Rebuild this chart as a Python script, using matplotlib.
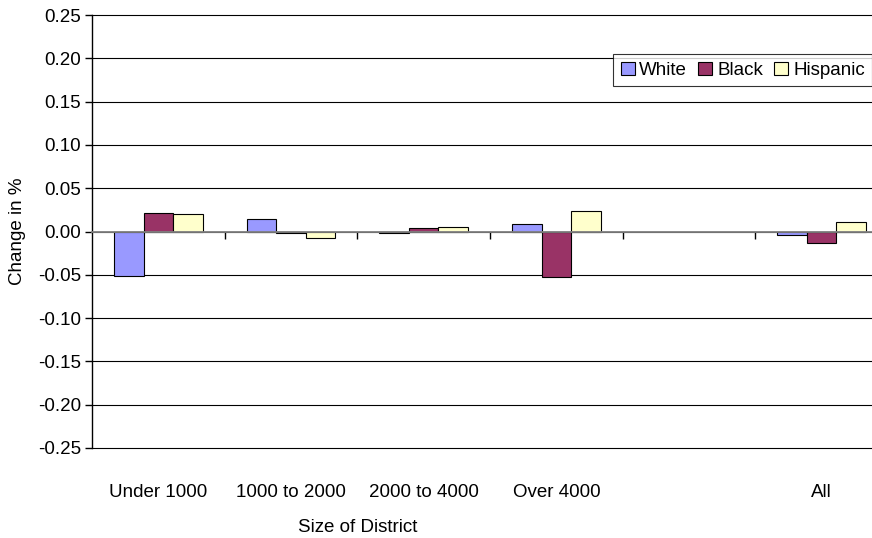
"""
District size vs change in enrolment share, by group
"""

import numpy as np
import matplotlib
matplotlib.use("Agg")
import matplotlib.pyplot as plt
from matplotlib.ticker import FixedLocator

plt.rcParams["font.family"] = ["Liberation Sans", "DejaVu Sans"]
plt.rcParams["axes.unicode_minus"] = False

categories = ["Under 1000", "1000 to 2000", "2000 to 4000", "Over 4000", "", "All"]
white = [-0.051, 0.014, -0.002, 0.009, np.nan, -0.004]
black = [0.021, -0.002, 0.004, -0.052, np.nan, -0.013]
hispanic = [0.020, -0.008, 0.005, 0.024, np.nan, 0.011]
y_ticks = [-0.25, -0.20, -0.15, -0.10, -0.05, 0.0, 0.05, 0.10, 0.15, 0.20, 0.25]

series = {"White": white, "Black": black, "Hispanic": hispanic}
colors = ["#9999FF", "#993366", "#FFFFCC"]

FS = 13.5


def plot_data():
    fig = plt.figure(figsize=(8.72, 5.38), dpi=100)
    # plot area runs a bit past the right edge of the figure
    ax = fig.add_axes([92 / 872, 1 - 448 / 538, 796 / 872, 433 / 538])

    x = np.arange(len(categories))
    width = 2 / 9
    for i, ((label, vals), col) in enumerate(zip(series.items(), colors)):
        ax.bar(x + (i - 1) * width, vals, width, color=col, edgecolor="black",
               linewidth=0.8, label=label, zorder=3)

    ax.set_xlim(-0.5, len(categories) - 0.5)
    ax.set_ylim(-0.25, 0.25)
    ax.set_yticks(y_ticks)
    ax.set_yticklabels([f"{t:.2f}" for t in y_ticks])
    ax.yaxis.grid(True, color="black", linewidth=0.8)
    for gl in ax.get_ygridlines():
        gl.set_clip_on(False)
    ax.set_axisbelow(True)

    # category axis crosses at zero
    for side in ["top", "right"]:
        ax.spines[side].set_visible(False)
    ax.spines["bottom"].set_position(("data", 0))
    ax.spines["bottom"].set_color("#808080")
    ax.spines["bottom"].set_linewidth(1.3)
    ax.spines["bottom"].set_zorder(4)
    ax.spines["left"].set_linewidth(1.0)

    ax.set_xticks(x)
    ax.set_xticklabels(categories, fontsize=FS)
    ax.tick_params(axis="x", which="major", length=0, pad=182)
    ax.xaxis.set_minor_locator(FixedLocator(x[1:] - 0.5))
    ax.tick_params(axis="x", which="minor", length=5, width=1.0,
                   direction="out", color="black")
    ax.tick_params(axis="y", length=5, width=1.0, pad=3, labelsize=FS)

    fig.text(18 / 872, 1 - 231 / 538, "Change in %", rotation=90,
             ha="center", va="center", fontsize=FS)
    fig.text(358 / 872, 1 - 528 / 538, "Size of District",
             ha="center", va="center", fontsize=FS)

    leg = ax.legend(loc="upper left", bbox_to_anchor=(613 / 872, 1 - 54 / 538),
                    bbox_transform=fig.transFigure, ncol=3, fontsize=FS,
                    frameon=True, fancybox=False, borderpad=0.4,
                    handlelength=0.75, handleheight=0.75, handletextpad=0.25,
                    columnspacing=0.6, borderaxespad=0)
    leg.get_frame().set_edgecolor("black")
    leg.get_frame().set_linewidth(0.8)
    leg.set_zorder(5)

    fig.savefig("out.png", dpi=100)


if __name__ == "__main__":
    plot_data()
